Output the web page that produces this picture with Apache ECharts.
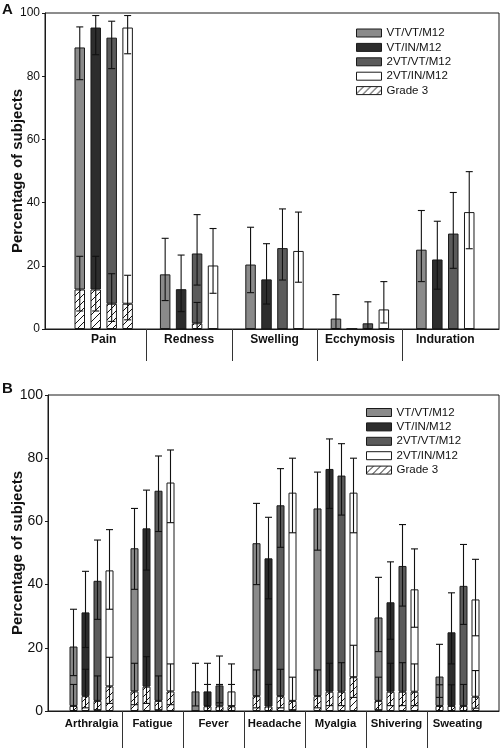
<!DOCTYPE html>
<html><head><meta charset="utf-8">
<script src="https://cdn.jsdelivr.net/npm/echarts@6/dist/echarts.min.js"></script>
<style>html,body{margin:0;padding:0;background:#fff}#c{width:500px;height:748px}</style>
</head><body><div id="c"></div>
<script>
// ---------- DATA ----------
const groups = ['VT/VT/M12', 'VT/IN/M12', '2VT/VT/M12', '2VT/IN/M12'];
const gradeLabel = 'Grade 3';
const yTicks = [0, 20, 40, 60, 80, 100];
const yTitle = 'Percentage of subjects';

// Panel A: local reactions
const catsA = ['Pain', 'Redness', 'Swelling', 'Ecchymosis', 'Induration'];
const totalA = [
  [89.1, 17.3, 20.4, 3.3, 25.1],
  [95.4, 12.6, 15.7, 0, 22.0],
  [92.2, 23.9, 25.6, 1.8, 30.2],
  [95.4, 20.1, 24.7, 6.2, 37.0]
];
const totalLoA = [
  [78.9, 9.0, 11.5, 0.1, 15.0],
  [86.8, 5.5, 7.9, null, 12.6],
  [82.4, 13.9, 15.5, 0.0, 19.2],
  [87.1, 11.3, 14.8, 1.9, 25.4]
];
const totalHiA = [
  [95.6, 28.7, 32.2, 10.9, 37.5],
  [99.2, 23.4, 27.0, null, 34.1],
  [97.4, 36.2, 38.0, 8.6, 43.2],
  [99.2, 31.8, 37.0, 15.0, 49.8]
];
const grade3A = [
  [12.5, 0, 0, 0, 0],
  [12.5, 0, 0, 0, 0],
  [8.0, 1.8, 0, 0, 0],
  [8.0, 0, 0, 0, 0]
];
const grade3LoA = [
  [5.7, null, null, null, null],
  [5.7, null, null, null, null],
  [2.4, 0.0, null, null, null],
  [2.9, null, null, null, null]
];
const grade3HiA = [
  [23.0, null, null, null, null],
  [23.0, null, null, null, null],
  [17.5, 8.4, null, null, null],
  [17.0, null, null, null, null]
];

// Panel B: systemic reactions
const catsB = ['Arthralgia', 'Fatigue', 'Fever', 'Headache', 'Myalgia', 'Shivering', 'Sweating'];
const totalB = [
  [20.4, 51.5, 6.2, 53.1, 64.1, 29.6, 10.9],
  [31.2, 57.8, 6.2, 48.3, 76.6, 34.4, 24.9],
  [41.2, 69.7, 8.1, 65.1, 74.5, 45.9, 39.6],
  [44.5, 72.3, 6.2, 69.1, 69.1, 38.5, 35.3]
];
const totalLoB = [
  [11.2, 38.5, 1.6, 40.0, 50.9, 18.8, 4.3],
  [20.1, 44.6, 1.6, 35.5, 64.1, 22.7, 14.9],
  [29.0, 56.8, 2.6, 51.8, 62.0, 33.2, 27.4],
  [32.2, 59.6, 1.6, 56.4, 56.4, 26.5, 23.8]
];
const totalHiB = [
  [32.2, 64.1, 15.1, 65.7, 75.6, 42.3, 21.1],
  [44.2, 69.9, 15.1, 61.3, 86.1, 47.2, 37.4],
  [54.1, 80.7, 17.4, 76.7, 84.6, 59.0, 52.7],
  [57.4, 82.6, 14.9, 80.0, 80.0, 51.3, 48.0]
];
const grade3B = [
  [1.6, 6.2, 0, 4.7, 4.7, 3.2, 1.6],
  [4.7, 7.7, 1.5, 1.4, 6.1, 6.1, 1.6],
  [3.2, 3.2, 1.5, 4.7, 6.1, 6.1, 1.6],
  [7.8, 6.2, 1.5, 3.2, 10.7, 6.1, 4.5]
];
const grade3LoB = [
  [0.0, 2.0, null, 1.0, 1.0, 0.4, 0.0],
  [1.0, 2.4, 0.0, 0.0, 1.7, 1.7, 0.0],
  [0.4, 0.4, 0.0, 1.0, 1.7, 1.7, 0.0],
  [2.4, 2.0, 0.0, 0.4, 4.3, 1.7, 0.9]
];
const grade3HiB = [
  [8.4, 15.1, null, 13.0, 13.0, 10.7, 8.3],
  [13.2, 17.2, 8.4, 8.4, 15.1, 15.1, 8.3],
  [11.1, 11.1, 8.4, 13.2, 15.3, 15.3, 8.4],
  [17.0, 14.9, 8.4, 10.7, 20.8, 14.9, 12.8]
];

// ---------- STYLE ----------
const FONT = '"Liberation Sans", Arial, sans-serif';
const INK = '#1a1a1a';
const groupColors = ['#8a8a8a', '#2d2d2d', '#5b5b5b', '#ffffff'];

function hatchPattern() {
  const s = 7;
  const cv = document.createElement('canvas');
  cv.width = s; cv.height = s;
  const ctx = cv.getContext('2d');
  ctx.fillStyle = '#fff'; ctx.fillRect(0, 0, s, s);
  ctx.strokeStyle = '#111'; ctx.lineWidth = 1;
  ctx.beginPath();
  ctx.moveTo(0, s); ctx.lineTo(s, 0);
  ctx.moveTo(-1, 1); ctx.lineTo(1, -1);
  ctx.moveTo(s - 1, s + 1); ctx.lineTo(s + 1, s - 1);
  ctx.stroke();
  return { image: cv, repeat: 'repeat' };
}
const hatch = hatchPattern();

const chart = echarts.init(document.getElementById('c'), null, { renderer: 'canvas' });

const panels = [
  { id: 'A', cats: catsA, total: totalA, lo: totalLoA, hi: totalHiA, g3: grade3A, g3lo: grade3LoA, g3hi: grade3HiA,
    frameLeft: 45, top: 13, bw: 10.5, gap: 0.52, cap: 3.5, yFont: 12, catFont: 12, catMargin: 5, sepLen: 32,
    nameGap: 20, legendLeft: 356, legendTop: 27, letterTop: 2 },
  { id: 'B', cats: catsB, total: totalB, lo: totalLoB, hi: totalHiB, g3: grade3B, g3lo: grade3LoB, g3hi: grade3HiB,
    frameLeft: 48, top: 395, bw: 8, gap: 0.5, cap: 3.5, yFont: 14, catFont: 11.3, catMargin: 7, sepLen: 37,
    nameGap: 23, legendLeft: 366, legendTop: 406.5, letterTop: 381 }
];

const grid = [], xAxis = [], yAxis = [], series = [], legend = [], title = [];

panels.forEach((p, pi) => {
  const H = 316;
  const gFrame = grid.length;
  grid.push({ left: p.frameLeft, right: 1, top: p.top, height: H, show: true, borderColor: INK, borderWidth: 1,
    backgroundColor: 'transparent', containLabel: false, outerBoundsMode: 'none' });
  const gData = grid.length;
  grid.push({ left: 61, right: 12, top: p.top, height: H, containLabel: false, outerBoundsMode: 'none' });

  // frame axes
  xAxis.push({ gridIndex: gFrame, type: 'value', min: 0, max: 1, position: 'bottom',
    axisLine: { show: true, onZero: false, lineStyle: { color: INK, width: 1 } },
    axisTick: { show: false }, axisLabel: { show: false }, splitLine: { show: false } });
  yAxis.push({ gridIndex: gFrame, type: 'value', min: yTicks[0], max: yTicks[yTicks.length - 1], interval: yTicks[1] - yTicks[0],
    name: yTitle, nameLocation: 'middle', nameGap: p.nameGap, nameMoveOverlap: false,
    nameTextStyle: { fontFamily: FONT, fontWeight: 'bold', fontSize: 15, color: '#111' },
    axisLine: { show: true, lineStyle: { color: INK, width: 1 } },
    axisTick: { show: true, length: 3, lineStyle: { color: INK } },
    axisLabel: { fontFamily: FONT, fontSize: p.yFont, color: '#111', margin: 5 },
    splitLine: { show: false } });

  // data axes
  const xCat = xAxis.length;
  xAxis.push({ gridIndex: gData, type: 'category', data: p.cats, position: 'bottom',
    axisLine: { show: false }, axisTick: { show: false },
    axisLabel: { fontFamily: FONT, fontWeight: 'bold', fontSize: p.catFont, color: '#111', margin: p.catMargin, interval: 0 } });
  const sepValues = p.cats.slice(1).map((c, i) => i + 1);
  xAxis.push({ gridIndex: gData, type: 'value', min: 0, max: p.cats.length, position: 'bottom',
    axisLine: { show: false }, axisLabel: { show: false }, splitLine: { show: false },
    axisTick: { show: true, inside: false, length: p.sepLen, customValues: sepValues, lineStyle: { color: '#333', width: 1 } } });
  const yData = yAxis.length;
  yAxis.push({ gridIndex: gData, type: 'value', min: yTicks[0], max: yTicks[yTicks.length - 1], show: false });

  // bars
  groups.forEach((gName, g) => {
    const stackId = p.id + g;
    series.push({
      type: 'bar', name: gradeLabel, stack: stackId, xAxisIndex: xCat, yAxisIndex: yData,
      barWidth: p.bw, barGap: (p.gap * 100) + '%',
      data: p.g3[g].map(v => v),
      itemStyle: { color: hatch, borderColor: INK, borderWidth: 1 },
      emphasis: { disabled: true }, animation: false, z: 3
    });
    series.push({
      type: 'bar', name: gName, stack: stackId, xAxisIndex: xCat, yAxisIndex: yData,
      barWidth: p.bw, barGap: (p.gap * 100) + '%',
      data: p.total[g].map((v, i) => Math.max(0, +(v - p.g3[g][i]).toFixed(2))),
      itemStyle: { color: groupColors[g], borderColor: INK, borderWidth: 1 },
      emphasis: { disabled: true }, animation: false, z: 3
    });
  });

  // error bars
  const ebData = [];
  groups.forEach((gName, g) => {
    p.cats.forEach((c, i) => {
      if (p.hi[g][i] != null) ebData.push([i, p.lo[g][i], p.hi[g][i], g]);
      if (p.g3hi[g][i] != null) ebData.push([i, p.g3lo[g][i], p.g3hi[g][i], g]);
    });
  });
  const step = p.bw * (1 + p.gap);
  const cap = p.cap;
  series.push({
    type: 'custom', name: 'err' + p.id, xAxisIndex: xCat, yAxisIndex: yData, z: 5, silent: true, animation: false,
    encode: { x: 0, y: [1, 2] },
    data: ebData,
    renderItem: (params, api) => {
      const c = api.value(0), lo = api.value(1), hi = api.value(2), g = api.value(3);
      const a = api.coord([c, lo]), b = api.coord([c, hi]);
      const x = a[0] + (g - 1.5) * step;
      const st = { stroke: '#111', lineWidth: 1.1, fill: null };
      return { type: 'group', children: [
        { type: 'line', shape: { x1: x, y1: a[1], x2: x, y2: b[1] }, style: st },
        { type: 'line', shape: { x1: x - cap, y1: a[1], x2: x + cap, y2: a[1] }, style: st },
        { type: 'line', shape: { x1: x - cap, y1: b[1], x2: x + cap, y2: b[1] }, style: st }
      ] };
    }
  });

  legend.push({
    orient: 'vertical', left: p.legendLeft, top: p.legendTop, padding: 0, itemGap: 2.4,
    itemWidth: 25, itemHeight: 8, icon: 'rect', selectedMode: false,
    data: groups.concat([gradeLabel]),
    textStyle: { fontFamily: FONT, fontSize: 11.5, color: '#111', lineHeight: 12 },
    itemStyle: { borderColor: INK, borderWidth: 1 }
  });
  title.push({ text: p.id, left: 2, top: p.letterTop, padding: 0,
    textStyle: { fontFamily: FONT, fontWeight: 'bold', fontSize: 15, color: '#111' } });
});

chart.setOption({
  backgroundColor: '#fff',
  animation: false,
  title, legend, grid, xAxis, yAxis, series
});
</script>
</body></html>
